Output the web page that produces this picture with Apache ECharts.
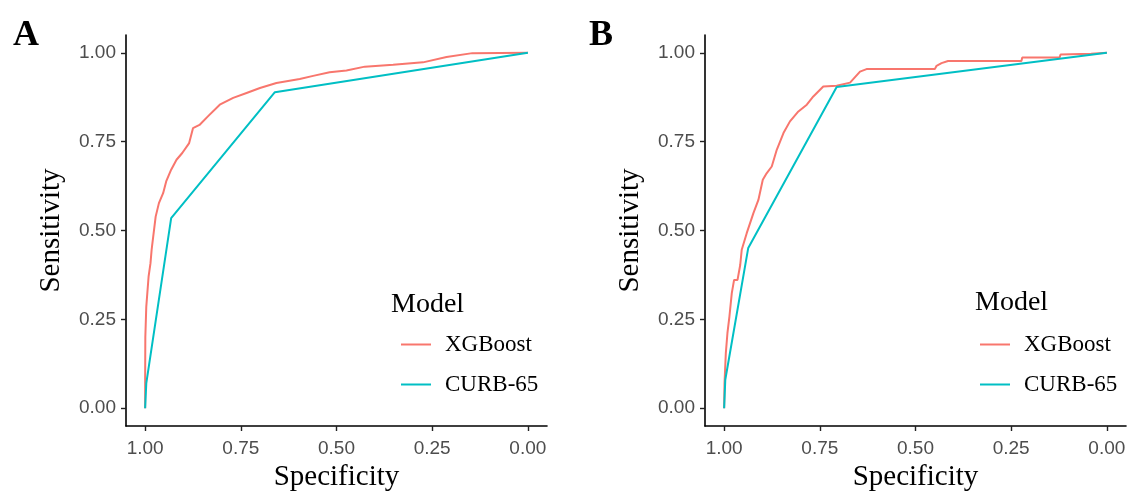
<!DOCTYPE html>
<html>
<head>
<meta charset="utf-8">
<script src="https://cdn.jsdelivr.net/npm/echarts@6/dist/echarts.min.js"></script>
<style>
html,body{margin:0;padding:0;background:#fff;}
#chart{width:1128px;height:491px;}
</style>
</head>
<body>
<div id="chart"></div>
<script>
// ---- data (specificity, sensitivity) ----
const tickValues = [0, 0.25, 0.5, 0.75, 1];
const seriesNames = ['XGBoost', 'CURB-65'];
const panelLabels = ['A', 'B'];

const xgbSpecA = [1, 1, 0.9995, 0.997, 0.991, 0.986, 0.983, 0.982, 0.9725, 0.964, 0.953, 0.945, 0.932, 0.918, 0.903, 0.885, 0.875, 0.858, 0.836, 0.805, 0.770, 0.735, 0.700, 0.657, 0.596, 0.561, 0.518, 0.474, 0.426, 0.352, 0.274, 0.2125, 0.145, 0];
const xgbSensA = [0, 0.07, 0.20, 0.286, 0.370, 0.408, 0.446, 0.455, 0.539, 0.577, 0.605, 0.638, 0.671, 0.699, 0.718, 0.746, 0.788, 0.797, 0.821, 0.854, 0.873, 0.887, 0.901, 0.915, 0.926, 0.935, 0.945, 0.950, 0.961, 0.966, 0.973, 0.988, 0.999, 1];
const curbSpecA = [1, 0.997, 0.932, 0.661, 0];
const curbSensA = [0, 0.07, 0.535, 0.889, 1];

const xgbSpecB = [1, 0.999, 0.9956, 0.9914, 0.9862, 0.980, 0.974, 0.965, 0.958, 0.954, 0.941, 0.9235, 0.9105, 0.899, 0.889, 0.8756, 0.8625, 0.845, 0.828, 0.806, 0.784, 0.767, 0.741, 0.706, 0.671, 0.645, 0.628, 0.4495, 0.445, 0.432, 0.415, 0.2233, 0.221, 0.1234, 0.121, 0.041, 0.038, 0];
const xgbSensB = [0, 0.070, 0.155, 0.211, 0.258, 0.324, 0.361, 0.361, 0.403, 0.446, 0.4925, 0.549, 0.586, 0.6426, 0.661, 0.680, 0.727, 0.774, 0.807, 0.835, 0.854, 0.877, 0.905, 0.907, 0.916, 0.947, 0.954, 0.954, 0.9634, 0.971, 0.977, 0.977, 0.987, 0.987, 0.995, 0.997, 1, 1];
const curbSpecB = [1, 0.997, 0.937, 0.706, 0];
const curbSensB = [0, 0.08, 0.451, 0.9035, 1];

// ---- styles ----
const COLORS = ['#F8766D', '#00BFC4'];
const SANS = "'Liberation Sans', Arial, sans-serif";
const SERIF = "'Liberation Serif', 'Times New Roman', serif";

function pairs(xs, ys) { return xs.map((x, i) => [x, ys[i]]); }

const grids = [
  { left: 126, top: 35, width: 421, height: 391, outerBoundsMode: 'none', containLabel: false },
  { left: 705, top: 35, width: 421, height: 391, outerBoundsMode: 'none', containLabel: false }
];

function xAxisFor(i) {
  return {
    type: 'value', gridIndex: i, inverse: true, min: -0.05, max: 1.05,
    name: 'Specificity', nameLocation: 'middle', nameGap: 35,
    nameTextStyle: { fontFamily: SERIF, fontSize: 29, color: '#000' },
    axisLine: { show: true, onZero: false, lineStyle: { color: '#000', width: 1.6 } },
    axisTick: { show: true, length: 5, customValues: tickValues, lineStyle: { color: '#222', width: 1.4 } },
    axisLabel: { customValues: tickValues, margin: 13, fontFamily: SANS, fontSize: 19, color: '#4D4D4D',
      formatter: v => v.toFixed(2) },
    splitLine: { show: false }
  };
}
function yAxisFor(i) {
  return {
    type: 'value', gridIndex: i, min: -0.05, max: 1.05,
    name: 'Sensitivity', nameLocation: 'middle', nameGap: 60,
    nameTextStyle: { fontFamily: SERIF, fontSize: 29, color: '#000' },
    axisLine: { show: true, onZero: false, lineStyle: { color: '#000', width: 1.6 } },
    axisTick: { show: true, length: 5, customValues: tickValues, lineStyle: { color: '#222', width: 1.4 } },
    axisLabel: { customValues: tickValues, margin: 10, fontFamily: SANS, fontSize: 19, color: '#4D4D4D',
      formatter: v => v.toFixed(2) },
    splitLine: { show: false }
  };
}
function lineSeries(name, data, i, color, z) {
  return {
    name: name, type: 'line', xAxisIndex: i, yAxisIndex: i, data: data,
    showSymbol: false, symbol: 'none', animation: false, z: z,
    lineStyle: { color: color, width: 2 }, itemStyle: { color: color }
  };
}
function legendFor(left, top) {
  return {
    data: seriesNames, orient: 'vertical', left: left, top: top,
    itemWidth: 30, itemHeight: 2, itemGap: 17, icon: 'rect',
    selectedMode: false,
    textStyle: { fontFamily: SERIF, fontSize: 23, color: '#000', padding: [0, 0, 0, 9] }
  };
}

const chart = echarts.init(document.getElementById('chart'), null, { renderer: 'canvas' });
chart.setOption({
  backgroundColor: '#fff',
  animation: false,
  title: [
    { text: panelLabels[0], left: 13, top: 18, padding: 0, textStyle: { fontFamily: SERIF, fontWeight: 'bold', fontSize: 36, color: '#000' } },
    { text: panelLabels[1], left: 589, top: 18, padding: 0, textStyle: { fontFamily: SERIF, fontWeight: 'bold', fontSize: 36, color: '#000' } },
    { text: 'Model', left: 391, top: 291, padding: 0, textStyle: { fontFamily: SERIF, fontWeight: 'normal', fontSize: 28, color: '#000' } },
    { text: 'Model', left: 975, top: 289, padding: 0, textStyle: { fontFamily: SERIF, fontWeight: 'normal', fontSize: 28, color: '#000' } }
  ],
  legend: [legendFor(396, 328), legendFor(975, 328)],
  grid: grids,
  xAxis: [xAxisFor(0), xAxisFor(1)],
  yAxis: [yAxisFor(0), yAxisFor(1)],
  series: [
    lineSeries(seriesNames[0], pairs(xgbSpecA, xgbSensA), 0, COLORS[0], 2),
    lineSeries(seriesNames[1], pairs(curbSpecA, curbSensA), 0, COLORS[1], 3),
    lineSeries(seriesNames[0], pairs(xgbSpecB, xgbSensB), 1, COLORS[0], 2),
    lineSeries(seriesNames[1], pairs(curbSpecB, curbSensB), 1, COLORS[1], 3)
  ]
});
</script>
</body>
</html>
